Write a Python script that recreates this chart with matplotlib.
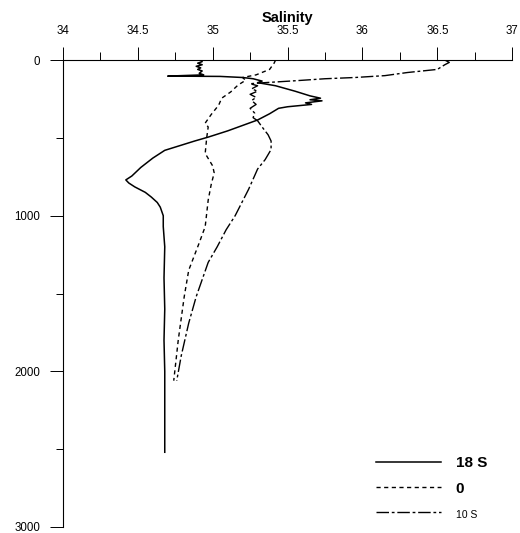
import matplotlib
matplotlib.use("Agg")
import matplotlib.pyplot as plt

plt.rcParams["font.family"] = ["Liberation Sans", "DejaVu Sans"]

# salinity profiles (salinity, depth in m)
sal_18s = [34.92, 34.93, 34.90, 34.93, 34.89, 34.92, 34.90, 34.93, 34.91, 34.94, 34.70, 35.05,
           35.20, 35.27, 35.33, 35.30, 35.42, 35.55, 35.65, 35.72, 35.65, 35.73, 35.62, 35.66,
           35.50, 35.44, 35.38, 35.30, 35.20, 35.10, 34.97, 34.88, 34.78, 34.68, 34.60, 34.52,
           34.46, 34.42, 34.44, 34.48, 34.55, 34.59, 34.63, 34.65, 34.67, 34.67, 34.68, 34.675,
           34.68, 34.675, 34.68, 34.68, 34.68, 34.68]
dep_18s = [0, 10, 20, 30, 40, 50, 60, 70, 85, 95, 103, 105,
           112, 120, 135, 145, 165, 200, 230, 245, 255, 262, 275, 285,
           300, 310, 345, 385, 420, 455, 495, 520, 550, 580, 630, 690,
           745, 770, 790, 815, 850, 880, 915, 945, 1000, 1070, 1200, 1400,
           1600, 1800, 2000, 2200, 2400, 2520]

sal_0 = [35.42, 35.41, 35.38, 35.29, 35.20, 35.22, 35.17, 35.12, 35.06, 35.04, 34.99, 34.95,
         34.97, 34.96, 34.95, 35.00, 35.01, 34.99, 34.97, 34.95, 34.91, 34.84, 34.81, 34.77, 34.74]
dep_0 = [0, 20, 60, 95, 112, 130, 160, 205, 245, 290, 350, 405,
         430, 500, 600, 680, 725, 800, 900, 1070, 1175, 1350, 1520, 1800, 2060]

sal_10s = [36.55, 36.58, 36.55, 36.50, 36.30, 36.15, 35.95, 35.75, 35.55, 35.35, 35.25, 35.30,
           35.26, 35.30, 35.25, 35.29, 35.26, 35.29, 35.25, 35.28, 35.27, 35.30, 35.33, 35.37,
           35.39, 35.39, 35.35, 35.30, 35.24, 35.15, 35.09, 35.03, 34.97, 34.89, 34.84, 34.79, 34.76]
dep_10s = [0, 15, 30, 60, 80, 100, 112, 120, 133, 145, 152, 165,
           185, 200, 220, 240, 260, 285, 310, 340, 370, 390, 430, 480,
           520, 575, 640, 700, 830, 1000, 1090, 1200, 1300, 1520, 1690, 1900, 2060]

x_ticks = [34, 34.5, 35, 35.5, 36, 36.5, 37]
x_labels = ["34", "34.5", "35", "35.5", "36", "36.5", "37"]
y_ticks = [0, 1000, 2000, 3000]

fig = plt.figure(figsize=(5.2, 5.33), dpi=100)
ax = fig.add_axes([0.121, 0.0113, 0.864, 0.876])

ax.plot(sal_18s, dep_18s, color="black", lw=1.1, label="18 S")
ax.plot(sal_0, dep_0, color="black", lw=1.0, dashes=(3, 2.5), label="0")
ax.plot(sal_10s, dep_10s, color="black", lw=1.0, dashes=(9, 2, 2, 2), label="10 S")

ax.set_xlim(34, 37)
ax.set_ylim(3000, 0)
ax.xaxis.tick_top()
ax.set_xticks(x_ticks)
ax.set_xticklabels(x_labels)
ax.set_xticks([34.25, 34.75, 35.25, 35.75, 36.25, 36.75], minor=True)
ax.set_yticks(y_ticks)
ax.set_yticks([500, 1500, 2500], minor=True)
ax.tick_params(axis="x", which="major", direction="out", length=9.5, width=0.7, pad=7, labelsize=8.3)
ax.tick_params(axis="x", which="minor", direction="out", length=5.5, width=0.7)
ax.tick_params(axis="y", which="major", direction="out", length=9.5, width=0.7, pad=7, labelsize=8.3)
ax.tick_params(axis="y", which="minor", direction="out", length=5, width=0.7)

ax.spines["right"].set_visible(False)
ax.spines["bottom"].set_visible(False)
ax.spines["top"].set_linewidth(0.8)
ax.spines["left"].set_linewidth(0.8)

ax.set_title("Salinity", fontsize=10.5, fontweight="bold", pad=1)

leg = ax.legend(loc="lower right", bbox_to_anchor=(0.975, -0.014), frameon=False,
                handlelength=4.2, handletextpad=1.0, labelspacing=0.75, fontsize=11)
texts = leg.get_texts()
texts[0].set_fontweight("bold")
texts[1].set_fontweight("bold")
texts[2].set_fontsize(7.5)

fig.savefig("out.png", dpi=100)
